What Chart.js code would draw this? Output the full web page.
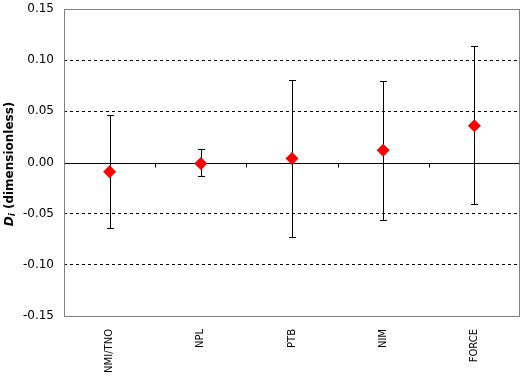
<!DOCTYPE html>
<html>
<head>
<meta charset="utf-8">
<script src="https://cdn.jsdelivr.net/npm/chart.js@4/dist/chart.umd.min.js"></script>
<style>
html,body{margin:0;padding:0;background:#fff;}
#wrap{width:523px;height:381px;}
</style>
</head>
<body>
<div id="wrap"><canvas id="c" width="523" height="381"></canvas></div>
<script>
const categories = ["NMI/TNO", "NPL", "PTB", "NIM", "FORCE"];
const values = [-0.009, -0.001, 0.004, 0.012, 0.036];
const upper = [0.046, 0.013, 0.081, 0.080, 0.114];
const lower = [-0.064, -0.013, -0.073, -0.056, -0.041];
const yTicks = [-0.15, -0.10, -0.05, 0.00, 0.05, 0.10, 0.15];

const FONT = "'DejaVu Sans', Verdana, sans-serif";
const PLOT_RIGHT_GAP = 3;

const decor = {
  id: 'decor',
  afterLayout(chart) {
    const xs = chart.scales.x, a = chart.chartArea;
    const right = chart.width - PLOT_RIGHT_GAP;
    a.right = right; a.width = right - a.left;
    xs.right = right; xs.width = right - xs.left;
    xs.configure();
  },
  beforeDatasetsDraw(chart) {
    const ctx = chart.ctx, a = chart.chartArea;
    const xs = chart.scales.x, ys = chart.scales.y;
    ctx.save();
    // zero axis
    const y0 = Math.round(ys.getPixelForValue(0)) + 0.5;
    ctx.strokeStyle = '#000'; ctx.lineWidth = 1; ctx.setLineDash([]);
    ctx.beginPath(); ctx.moveTo(a.left, y0); ctx.lineTo(a.right, y0); ctx.stroke();
    // tick marks at category boundaries
    const step = (a.right - a.left) / categories.length;
    ctx.beginPath();
    for (let i = 1; i < categories.length; i++) {
      const x = Math.round(a.left + i * step) + 0.5;
      ctx.moveTo(x, y0); ctx.lineTo(x, y0 + 4);
    }
    ctx.stroke();
    // error bars
    ctx.beginPath();
    for (let i = 0; i < categories.length; i++) {
      const x = Math.round(xs.getPixelForValue(i)) + 0.5;
      const yt = Math.round(ys.getPixelForValue(upper[i])) + 0.5;
      const yb = Math.round(ys.getPixelForValue(lower[i])) + 0.5;
      ctx.moveTo(x, yt); ctx.lineTo(x, yb);
      ctx.moveTo(x - 3.5, yt); ctx.lineTo(x + 3.5, yt);
      ctx.moveTo(x - 3.5, yb); ctx.lineTo(x + 3.5, yb);
    }
    ctx.stroke();
    ctx.restore();
  },
  afterDraw(chart) {
    const ctx = chart.ctx, a = chart.chartArea;
    ctx.save();
    ctx.strokeStyle = '#808080'; ctx.lineWidth = 1;
    ctx.strokeRect(Math.round(a.left) + 0.5, Math.round(a.top) + 0.5,
                   Math.round(a.right - a.left) - 1, Math.round(a.bottom - a.top));
    // y title
    ctx.translate(10, 164);
    ctx.rotate(-Math.PI / 2);
    ctx.fillStyle = '#000';
    ctx.textBaseline = 'middle';
    const parts = [
      {t: 'D', f: 'italic bold 12px ' + FONT, dy: 0},
      {t: 'i', f: 'italic bold 9px ' + FONT, dy: 2.5},
      {t: ' (dimensionless)', f: 'bold 12px ' + FONT, dy: 0}
    ];
    let total = 0;
    parts.forEach(p => { ctx.font = p.f; p.w = ctx.measureText(p.t).width; total += p.w; });
    let x = -total / 2;
    ctx.textAlign = 'left';
    parts.forEach(p => { ctx.font = p.f; ctx.fillText(p.t, x, p.dy); x += p.w; });
    ctx.restore();
  }
};

new Chart(document.getElementById('c'), {
  type: 'line',
  data: {
    labels: categories,
    datasets: [{
      data: values,
      showLine: false,
      pointStyle: 'rectRot',
      pointRadius: 6.5,
      pointHoverRadius: 6.5,
      backgroundColor: '#ff0000',
      borderColor: '#ff0000',
      borderWidth: 0
    }]
  },
  plugins: [decor],
  options: {
    responsive: false,
    animation: false,
    events: [],
    layout: {padding: {top: 9, right: 3, left: 0, bottom: 0}},
    plugins: {legend: {display: false}, tooltip: {enabled: false}},
    scales: {
      x: {
        type: 'category',
        offset: true,
        grid: {display: false, drawTicks: false},
        border: {display: false},
        ticks: {
          autoSkip: false, minRotation: 90, maxRotation: 90, padding: 13,
          color: '#000', font: {family: FONT, size: 10}
        },
        afterFit(s) { s.height = 65; s.paddingLeft = 0; s.paddingRight = 0; s.paddingTop = 0; s.paddingBottom = 0; }
      },
      y: {
        min: -0.15, max: 0.15,
        afterBuildTicks(s) { s.ticks = yTicks.map(v => ({value: v})); },
        grid: {
          drawTicks: false,
          color: ctx => {
            const v = ctx.tick ? ctx.tick.value : 0;
            return (Math.abs(v) < 1e-9 || Math.abs(Math.abs(v) - 0.15) < 1e-9) ? 'rgba(0,0,0,0)' : '#000';
          }
        },
        border: {display: false, dash: [3, 3]},
        ticks: {
          padding: 10, color: '#000', font: {family: FONT, size: 12},
          callback: v => Number(v).toFixed(2)
        },
        afterFit(s) { s.width = 64; s.paddingLeft = 0; s.paddingRight = 0; s.paddingTop = 0; s.paddingBottom = 0; }
      }
    }
  }
});
</script>
</body>
</html>
